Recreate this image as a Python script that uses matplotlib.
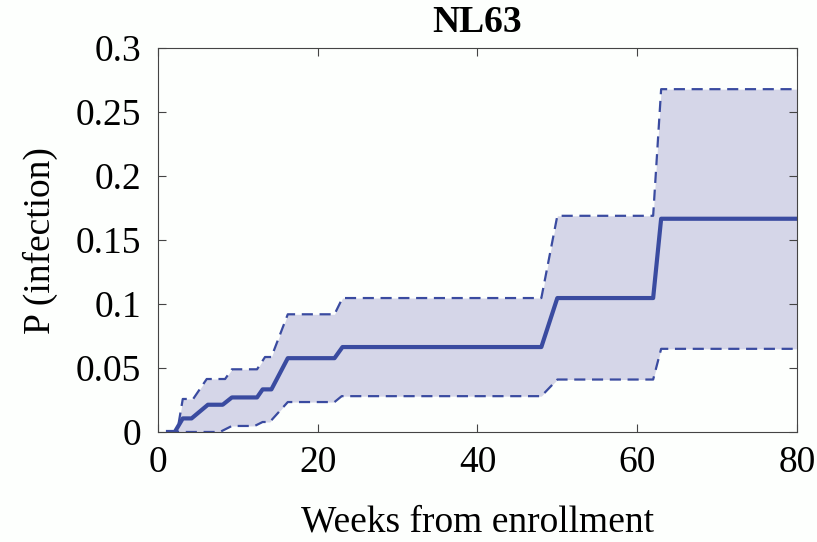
import numpy as np
import matplotlib.pyplot as plt

# NL63 cumulative infection probability
weeks_mean = [1.25, 2.1, 3.1, 4.2, 6.25, 8.1, 9.25, 12.4, 13.1, 14.2, 16.25, 22.1, 23.1, 48.0, 50.0, 62.0, 63.0, 80.0]
p_mean = [0, 0, 0.0106, 0.0106, 0.0213, 0.0213, 0.027, 0.027, 0.0333, 0.0333, 0.0577, 0.0577, 0.0664, 0.0664, 0.1047, 0.1047, 0.1667, 0.1667]

weeks_up = [1.25, 2.4, 3.1, 4.4, 6.1, 8.4, 9.25, 12.4, 13.4, 14.2, 16.25, 22.1, 23.1, 48.0, 50.0, 62.0, 63.0, 80.0]
p_up = [0, 0, 0.0258, 0.0258, 0.0414, 0.0414, 0.049, 0.049, 0.0586, 0.0586, 0.092, 0.092, 0.1047, 0.1047, 0.169, 0.169, 0.268, 0.268]

weeks_lo = [1.25, 7.75, 9.25, 12.1, 13.1, 14.0, 16.25, 22.1, 23.0, 48.0, 50.0, 62.0, 63.0, 80.0]
p_lo = [0, 0, 0.0047, 0.0047, 0.0078, 0.0078, 0.0234, 0.0234, 0.028, 0.028, 0.041, 0.041, 0.065, 0.065]

col = '#3a4ba0'
plt.rcParams['font.family'] = ['Liberation Serif', 'DejaVu Serif']
fs = 27

fig = plt.figure(figsize=(8.17, 5.42), dpi=100, facecolor='#fdfffd')
ax = fig.add_axes([0.1934, 0.203, 0.782, 0.708])
ax.set_facecolor('#fdfffd')

# shaded band between the bounds on a common grid of break points
grid = np.unique(np.concatenate([weeks_up, weeks_lo]))
ax.fill_between(grid, np.interp(grid, weeks_lo, p_lo), np.interp(grid, weeks_up, p_up),
                color='#d5d6e8', lw=0)
ax.plot(weeks_up, p_up, '--', color=col, lw=1.6, dashes=(5, 3))
ax.plot(weeks_lo, p_lo, '--', color=col, lw=1.6, dashes=(5, 3))
ax.plot(weeks_mean, p_mean, '-', color=col, lw=3)

ax.set_xlim(0, 80)
ax.set_ylim(0, 0.3)
ax.set_xticks([0, 20, 40, 60, 80])
ax.set_yticks([0, 0.05, 0.1, 0.15, 0.2, 0.25, 0.3])
ax.set_yticklabels(['0', '0.05', '0.1', '0.15', '0.2', '0.25', '0.3'])
ax.tick_params(direction='in', top=True, right=True, length=6, width=0.8,
               labelsize=fs, pad=10, color='#444444')
ax.tick_params(axis='y', pad=12)
for s in ax.spines.values():
    s.set_color('#444444')
    s.set_linewidth(0.8)

ax.set_xlabel('Weeks from enrollment', fontsize=fs, labelpad=18)
ax.set_ylabel('P (infection)', fontsize=fs, labelpad=13)
ax.set_title('NL63', fontsize=fs, fontweight='bold', pad=12)

fig.savefig('out.png', dpi=100, facecolor=fig.get_facecolor())
